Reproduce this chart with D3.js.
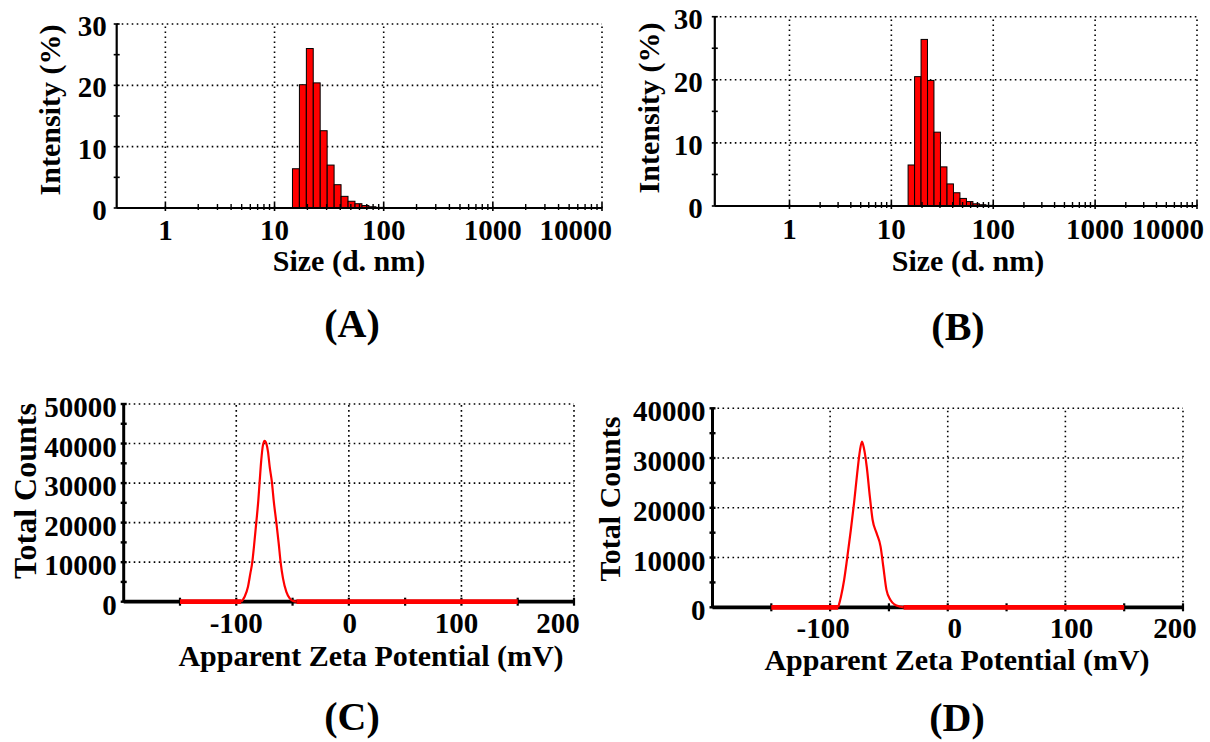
<!DOCTYPE html>
<html>
<head>
<meta charset="utf-8">
<script src="https://cdn.jsdelivr.net/npm/d3@7/dist/d3.min.js"></script>
<style>
  html, body { margin: 0; padding: 0; background: #fff; }
  svg { display: block; }
  text { font-family: "Liberation Serif", "Times New Roman", serif; font-weight: bold; fill: #000; }
</style>
</head>
<body>
<svg id="chart" width="1210" height="742"></svg>
<script>
// ---------- DATA ----------
// Size distribution bins (d. nm, bin centres of the instrument's log-spaced bins)
const sizeBinsNm = [15.69, 18.17, 21.04, 24.36, 28.21, 32.67, 37.84, 43.82, 50.75, 58.77, 68.06, 78.82, 91.28];
const intensityA = [6.4, 20.1, 26.0, 20.4, 12.6, 7.0, 3.8, 1.9, 1.1, 0.7, 0.4, 0.2, 0.1];
const intensityB = [6.5, 20.5, 26.4, 19.9, 11.7, 6.2, 3.5, 2.1, 1.2, 0.7, 0.35, 0.2, 0.1];
const sizeTicks = [1, 10, 100, 1000, 10000];
const sizeTickLabels = ["1", "10", "100", "1000", "10000"];
const intensityTicks = [0, 10, 20, 30];

// Zeta potential distributions
const zetaC_mV = [-150, -95.6, -92.6, -89.6, -87.5, -85.8, -84.3, -82.2, -80.4, -79.3, -77.8, -76.3, -74.8, -73.3, -71.8, -70.3, -68.3, -66.8, -64.4, -62.3, -60.6, -58.5, -55.5, -52.5, -49.6, -46.6, 150];
const countsC  = [0, 0, 1260, 3790, 7160, 9940, 13900, 20100, 25700, 30100, 35800, 39600, 40700, 40000, 37900, 34100, 30100, 25700, 20000, 14700, 9940, 5900, 2500, 840, 170, 0, 0];
const zetaD_mV = [-150, -93.1, -90.8, -88.1, -85.7, -82.4, -79.7, -77.0, -74.6, -72.9, -71.3, -68.9, -66.2, -63.9, -60.5, -57.1, -54.8, -52.1, -48.7, -45.4, -40.3, -37.6, 150];
const countsD  = [0, 0, 2140, 5490, 9510, 15540, 20900, 26900, 31600, 33300, 32000, 28300, 22200, 17600, 14900, 12200, 8200, 3500, 1470, 600, 130, 0, 0];
const zetaTicks = [-100, 0, 100, 200];
const countTicksC = [0, 10000, 20000, 30000, 40000, 50000];
const countTicksD = [0, 10000, 20000, 30000, 40000];

// ---------- DRAWING ----------
const svg = d3.select("#chart");
const DOT = "1.6,3.4";

function sizePanel(cfg) {
  const g = svg.append("g");
  const x = d3.scaleLog().domain(cfg.xDomain).range(cfg.xRange);
  const y = d3.scaleLinear().domain([0, 30]).range(cfg.yRange);
  const [x0, x1] = cfg.xRange, [y0, y1] = cfg.yRange;

  // grid (dotted)
  g.selectAll(".vg").data(sizeTicks).join("line")
    .attr("x1", d => x(d)).attr("x2", d => x(d)).attr("y1", y0).attr("y2", y1)
    .attr("stroke", "#000").attr("stroke-width", 1.6).attr("stroke-dasharray", DOT);
  g.selectAll(".hg").data(intensityTicks.filter(d => d > 0)).join("line")
    .attr("x1", x0).attr("x2", x1).attr("y1", d => y(d)).attr("y2", d => y(d))
    .attr("stroke", "#000").attr("stroke-width", 1.6).attr("stroke-dasharray", DOT);

  // bars
  const half = Math.pow(10, 0.0314);
  g.selectAll(".bar").data(cfg.values).join("rect")
    .attr("x", (d, i) => x(sizeBinsNm[i] / half))
    .attr("width", (d, i) => x(sizeBinsNm[i] * half) - x(sizeBinsNm[i] / half))
    .attr("y", d => y(d)).attr("height", d => y(0) - y(d))
    .attr("fill", "#ff0000").attr("stroke", "#000").attr("stroke-width", 1);

  // axes
  g.append("line").attr("x1", x0).attr("x2", x1).attr("y1", y0).attr("y2", y0)
    .attr("stroke", "#000").attr("stroke-width", 2.2);
  g.append("line").attr("x1", x0).attr("x2", x0).attr("y1", y0).attr("y2", y1)
    .attr("stroke", "#000").attr("stroke-width", 2.2);
  const minor = [];
  [1, 10, 100, 1000].forEach(d => { for (let k = 2; k <= 9; k++) minor.push(d * k); });
  g.selectAll(".mt").data(minor).join("line")
    .attr("x1", d => x(d)).attr("x2", d => x(d)).attr("y1", y0 - 4).attr("y2", y0 + 2)
    .attr("stroke", "#000").attr("stroke-width", 1.4);
  g.selectAll(".Mt").data(sizeTicks).join("line")
    .attr("x1", d => x(d)).attr("x2", d => x(d)).attr("y1", y0 - 5).attr("y2", y0 + 3)
    .attr("stroke", "#000").attr("stroke-width", 1.6);
  g.selectAll(".yt").data(d3.range(0, 31, 5)).join("line")
    .attr("x1", x0 - 3).attr("x2", x0 + 3).attr("y1", d => y(d)).attr("y2", d => y(d))
    .attr("stroke", "#000").attr("stroke-width", 1.6);

  // tick labels
  g.selectAll(".xl").data(sizeTicks).join("text")
    .attr("x", (d, i) => i === sizeTicks.length - 1 ? x(d) + cfg.lastShift : x(d))
    .attr("y", y0 + cfg.xLabDy)
    .attr("text-anchor", (d, i) => i === sizeTicks.length - 1 ? "end" : "middle")
    .attr("font-size", 29).text((d, i) => sizeTickLabels[i]);
  g.selectAll(".yl").data(intensityTicks).join("text")
    .attr("x", x0 - cfg.yLabGap).attr("y", d => y(d) + 12)
    .attr("text-anchor", "end").attr("font-size", 29).text(d => d);

  g.append("text").attr("x", cfg.titleX).attr("y", cfg.titleY).attr("text-anchor", "middle")
    .attr("font-size", 30).text("Size (d. nm)");
  g.append("text").attr("transform", `translate(${cfg.yTitleX},${cfg.yTitleY}) rotate(-90)`)
    .attr("text-anchor", "middle").attr("font-size", 30).text("Intensity (%)");
  g.append("text").attr("x", cfg.letterX).attr("y", cfg.letterY).attr("text-anchor", "middle")
    .attr("font-size", 40).text(cfg.letter);
}

function zetaPanel(cfg) {
  const g = svg.append("g");
  const x = d3.scaleLinear().domain([-200, 200]).range(cfg.xRange);
  const y = d3.scaleLinear().domain([0, cfg.yMax]).range(cfg.yRange);
  const [x0, x1] = cfg.xRange, [y0, y1] = cfg.yRange;

  g.selectAll(".vg").data(zetaTicks).join("line")
    .attr("x1", d => x(d)).attr("x2", d => x(d)).attr("y1", y0).attr("y2", y1)
    .attr("stroke", "#000").attr("stroke-width", 1.6).attr("stroke-dasharray", DOT);
  g.selectAll(".hg").data(cfg.yTicks.filter(d => d > 0)).join("line")
    .attr("x1", x0).attr("x2", x1).attr("y1", d => y(d)).attr("y2", d => y(d))
    .attr("stroke", "#000").attr("stroke-width", 1.6).attr("stroke-dasharray", DOT);

  // axes
  g.append("line").attr("x1", x0).attr("x2", x1).attr("y1", y0).attr("y2", y0)
    .attr("stroke", "#000").attr("stroke-width", 3.8);
  g.append("line").attr("x1", x0).attr("x2", x0).attr("y1", y0).attr("y2", y1)
    .attr("stroke", "#000").attr("stroke-width", 3);
  g.selectAll(".xt").data(d3.range(-150, 201, 50)).join("line")
    .attr("x1", d => x(d)).attr("x2", d => x(d)).attr("y1", y0 - 4).attr("y2", y0 + 4)
    .attr("stroke", "#000").attr("stroke-width", 2.2);
  g.selectAll(".yt").data(d3.range(0, cfg.yMax + 1, 5000)).join("line")
    .attr("x1", x0 - 3).attr("x2", x0 + 3).attr("y1", d => y(d)).attr("y2", d => y(d))
    .attr("stroke", "#000").attr("stroke-width", 2.4);

  // red baseline segments (zero runs) and curve
  const pts = cfg.xs.map((v, i) => [v, cfg.ys[i]]);
  const zeroRuns = [];
  for (let i = 0; i < pts.length - 1; i++) {
    if (pts[i][1] === 0 && pts[i + 1][1] === 0) zeroRuns.push([pts[i], pts[i + 1]]);
  }
  g.selectAll(".zr").data(zeroRuns).join("line")
    .attr("x1", d => x(d[0][0])).attr("x2", d => x(d[1][0]))
    .attr("y1", d => y(d[0][1])).attr("y2", d => y(d[1][1]))
    .attr("stroke", "#ff0000").attr("stroke-width", 4.8);
  const core = pts.slice(1, pts.length - 1);
  g.append("path").datum(core)
    .attr("d", d3.line().x(d => x(d[0])).y(d => y(d[1])).curve(d3.curveMonotoneX))
    .attr("fill", "none").attr("stroke", "#ff0000").attr("stroke-width", 2.2);

  // labels
  g.selectAll(".xl").data(zetaTicks).join("text")
    .attr("x", (d, i) => x(d) + cfg.xLabShift[i]).attr("y", y0 + 31)
    .attr("text-anchor", "middle").attr("font-size", 29).text(d => d === -100 ? "-100" : d);
  g.selectAll(".yl").data(cfg.yTicks).join("text")
    .attr("x", x0 - 7).attr("y", d => y(d) + 13)
    .attr("text-anchor", "end").attr("font-size", 29).text(d => d);
  g.append("text").attr("x", cfg.titleX).attr("y", cfg.titleY).attr("text-anchor", "middle")
    .attr("font-size", 30).text("Apparent Zeta Potential (mV)");
  g.append("text").attr("transform", `translate(${cfg.yTitleX},${cfg.yTitleY}) rotate(-90)`)
    .attr("text-anchor", "middle").attr("font-size", cfg.yTitleSize).text("Total Counts");
  g.append("text").attr("x", cfg.letterX).attr("y", cfg.letterY).attr("text-anchor", "middle")
    .attr("font-size", 40).text(cfg.letter);
}

sizePanel({
  xDomain: [Math.pow(10, -0.446), 10000], xRange: [116.7, 602], yRange: [208, 24],
  values: intensityA, lastShift: 10, xLabDy: 32, yLabGap: 10,
  titleX: 349, titleY: 271, yTitleX: 60, yTitleY: 110, letter: "(A)", letterX: 352, letterY: 337
});
sizePanel({
  xDomain: [Math.pow(10, -0.733), 10000], xRange: [714.8, 1197], yRange: [206, 16.7],
  values: intensityB, lastShift: 7, xLabDy: 33, yLabGap: 12,
  titleX: 968, titleY: 271, yTitleX: 659, yTitleY: 108, letter: "(B)", letterX: 958, letterY: 340
});
zetaPanel({
  xRange: [123.7, 574], yRange: [601.7, 404], yMax: 50000, yTicks: countTicksC,
  xs: zetaC_mV, ys: countsC, xLabShift: [0, 1, -5, -16],
  titleX: 371, titleY: 666, yTitleX: 36, yTitleY: 491, yTitleSize: 32,
  letter: "(C)", letterX: 352, letterY: 730
});
zetaPanel({
  xRange: [712.5, 1183], yRange: [607.3, 408.3], yMax: 40000, yTicks: countTicksD,
  xs: zetaD_mV, ys: countsD, xLabShift: [-7, 7, 6, -8],
  titleX: 957, titleY: 670, yTitleX: 620, yTitleY: 499, yTitleSize: 30,
  letter: "(D)", letterX: 957, letterY: 731
});
</script>
</body>
</html>
